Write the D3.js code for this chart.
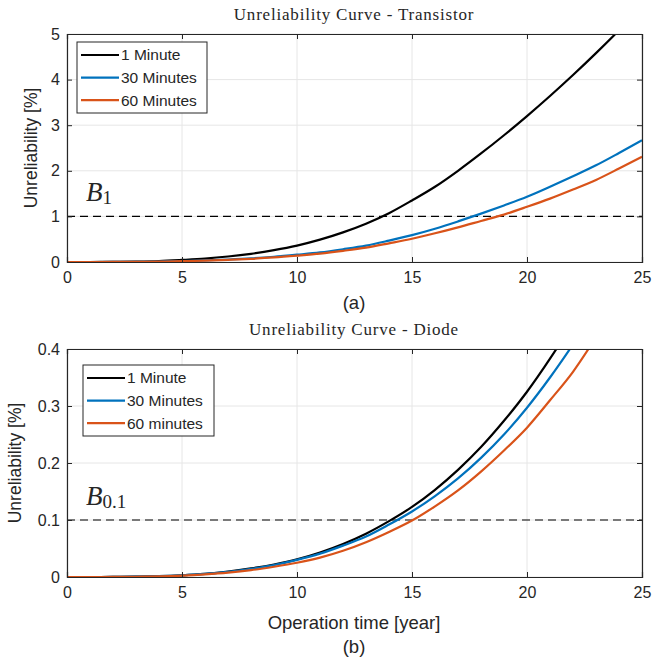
<!DOCTYPE html>
<html>
<head>
<meta charset="utf-8">
<script src="https://cdn.jsdelivr.net/npm/d3@7"></script>
<style>
  body { margin: 0; background: #fff; }
  svg text { fill: #262626; }
</style>
</head>
<body>
<div id="chart"></div>
<script>
const years = d3.range(0, 26);

// transistor, unreliability in %
const trans1min = [0, 0.0003, 0.002, 0.008, 0.02, 0.045, 0.075, 0.12, 0.18, 0.26, 0.36, 0.49, 0.65, 0.84, 1.07, 1.35, 1.65, 2.0, 2.38, 2.78, 3.2, 3.64, 4.1, 4.58, 5.08, 5.6];
const trans30min = [0, 0.0002, 0.001, 0.004, 0.01, 0.02, 0.035, 0.055, 0.08, 0.115, 0.16, 0.21, 0.28, 0.36, 0.47, 0.59, 0.73, 0.89, 1.06, 1.24, 1.43, 1.65, 1.88, 2.12, 2.39, 2.67];
const trans60min = [0, 0.0002, 0.001, 0.0035, 0.009, 0.018, 0.03, 0.048, 0.07, 0.1, 0.14, 0.185, 0.245, 0.315, 0.41, 0.51, 0.63, 0.76, 0.9, 1.04, 1.21, 1.39, 1.59, 1.8, 2.05, 2.31];

// diode, unreliability in %
const diode1min = [0, 0.00001, 0.0001, 0.0005, 0.0014, 0.003, 0.0055, 0.0094, 0.015, 0.022, 0.031, 0.043, 0.058, 0.076, 0.098, 0.123, 0.153, 0.188, 0.228, 0.274, 0.325, 0.383, 0.447, 0.52, 0.6, 0.69];
const diode30min = [0, 0.00001, 0.0001, 0.0005, 0.0014, 0.003, 0.0054, 0.009, 0.0143, 0.021, 0.030, 0.041, 0.055, 0.071, 0.092, 0.115, 0.142, 0.173, 0.209, 0.25, 0.297, 0.35, 0.408, 0.47, 0.54, 0.62];
const diode60min = [0, 0.00001, 0.0001, 0.0004, 0.0011, 0.0025, 0.0047, 0.0077, 0.012, 0.018, 0.025, 0.034, 0.046, 0.061, 0.079, 0.099, 0.124, 0.152, 0.185, 0.222, 0.262, 0.31, 0.36, 0.42, 0.48, 0.55];

const xTicks = [0, 5, 10, 15, 20, 25];
const transTicks = [0, 1, 2, 3, 4, 5];
const diodeTicks = [0, 0.1, 0.2, 0.3, 0.4];
const colors = ["#000000", "#0072BD", "#D95319"];

const width = 667, height = 660;
const svg = d3.select("#chart").append("svg")
  .attr("width", width).attr("height", height);

const sans = "Liberation Sans, Arial, sans-serif";
const serif = "Liberation Serif, serif";

function panel(cfg) {
  const x = d3.scaleLinear().domain([0, 25]).range([67, 642]);
  const y = d3.scaleLinear().domain(cfg.yDomain).range([cfg.bottom, cfg.top]);
  const g = svg.append("g");
  const clipId = "clip" + cfg.id;

  g.append("clipPath").attr("id", clipId)
    .append("rect")
    .attr("x", 67).attr("y", cfg.top)
    .attr("width", 575).attr("height", cfg.bottom - cfg.top);

  // grid
  g.selectAll(".gx").data(xTicks).enter().append("line")
    .attr("x1", d => x(d)).attr("x2", d => x(d))
    .attr("y1", cfg.top).attr("y2", cfg.bottom)
    .attr("stroke", "#e6e6e6");
  g.selectAll(".gy").data(cfg.yTicks).enter().append("line")
    .attr("x1", 67).attr("x2", 642)
    .attr("y1", d => y(d)).attr("y2", d => y(d))
    .attr("stroke", "#e6e6e6");

  // threshold
  g.append("line")
    .attr("x1", 67).attr("x2", 642)
    .attr("y1", y(cfg.threshold)).attr("y2", y(cfg.threshold))
    .attr("stroke", "#000").attr("stroke-width", 1.1)
    .attr("stroke-dasharray", "8,5");

  const line = d3.line().x((d, i) => x(years[i])).y(d => y(d)).curve(d3.curveMonotoneX);
  cfg.series.forEach((s, i) => {
    g.append("path")
      .datum(s)
      .attr("clip-path", `url(#${clipId})`)
      .attr("fill", "none")
      .attr("stroke", colors[i])
      .attr("stroke-width", 2.2)
      .attr("d", line);
  });

  // axes, ticks inside
  const ax = d3.axisBottom(x).tickValues(xTicks).tickSize(-5).tickPadding(10).tickFormat(d3.format("d"));
  const axT = d3.axisTop(x).tickValues(xTicks).tickSize(-5).tickFormat("");
  const ay = d3.axisLeft(y).tickValues(cfg.yTicks).tickSize(-5).tickPadding(7).tickFormat(cfg.fmt);
  const ayR = d3.axisRight(y).tickValues(cfg.yTicks).tickSize(-5).tickFormat("");

  [[ax, `translate(0,${cfg.bottom})`], [axT, `translate(0,${cfg.top})`],
   [ay, "translate(67,0)"], [ayR, "translate(642,0)"]].forEach(([a, t]) => {
    const ga = g.append("g").attr("transform", t).call(a);
    ga.select(".domain").attr("stroke", "#262626").attr("stroke-width", 1.2);
    ga.selectAll(".tick line").attr("stroke", "#262626");
    ga.selectAll("text").attr("fill", "#262626")
      .style("font-family", sans).style("font-size", "16px");
  });

  // title
  g.append("text")
    .attr("x", 354).attr("y", cfg.top - 14)
    .attr("text-anchor", "middle")
    .style("font-family", serif).style("font-size", "17px")
    .style("letter-spacing", "0.8px")
    .text(cfg.title);

  // y label
  g.append("text")
    .attr("transform", `translate(${cfg.labelX},${(cfg.top + cfg.bottom) / 2}) rotate(-90)`)
    .attr("text-anchor", "middle")
    .style("font-family", sans).style("font-size", "17.5px")
    .text("Unreliability [%]");

  // B label
  const b = g.append("text")
    .attr("x", 86).attr("y", y(cfg.threshold) - 15)
    .style("font-family", serif).style("font-size", "27px")
    .style("font-style", "italic")
    .text("B");
  b.append("tspan").attr("dy", 3).style("font-style", "normal").style("font-size", "19px").text(cfg.sub);

  // legend
  const lg = g.append("g").attr("transform", `translate(${cfg.legend[0]},${cfg.legend[1]})`);
  lg.append("rect").attr("width", cfg.legend[2]).attr("height", 71)
    .attr("fill", "#fff").attr("stroke", "#262626").attr("stroke-width", 1);
  cfg.names.forEach((n, i) => {
    const row = lg.append("g").attr("transform", `translate(0,${13 + i * 22.6})`);
    row.append("line").attr("x1", 4).attr("x2", 42)
      .attr("stroke", colors[i]).attr("stroke-width", 2.2);
    row.append("text").attr("x", 44).attr("y", 0).attr("dy", "0.35em")
      .style("font-family", sans).style("font-size", "15.5px")
      .attr("fill", "#000")
      .text(n);
  });

  g.selectAll(".cap").data(cfg.captions).enter().append("text")
    .attr("x", 354).attr("y", d => d[0])
    .attr("text-anchor", "middle")
    .style("font-family", sans).style("font-size", "18.5px")
    .text(d => d[1]);
}

panel({
  id: "a", top: 34, bottom: 262, yDomain: [0, 5], yTicks: transTicks, fmt: d3.format("d"),
  threshold: 1, sub: "1", title: "Unreliability Curve - Transistor",
  series: [trans1min, trans30min, trans60min],
  names: ["1 Minute", "30 Minutes", "60 Minutes"],
  legend: [77, 42, 130], labelX: 37,
  captions: [[309, "(a)"]]
});

panel({
  id: "b", top: 349, bottom: 577, yDomain: [0, 0.4], yTicks: diodeTicks, fmt: d => d === 0 ? "0" : d3.format(".1f")(d),
  threshold: 0.1, sub: "0.1", title: "Unreliability Curve - Diode",
  series: [diode1min, diode30min, diode60min],
  names: ["1 Minute", "30 Minutes", "60 minutes"],
  legend: [83, 365, 131], labelX: 21,
  captions: [[629, "Operation time [year]"], [653, "(b)"]]
});
</script>
</body>
</html>
